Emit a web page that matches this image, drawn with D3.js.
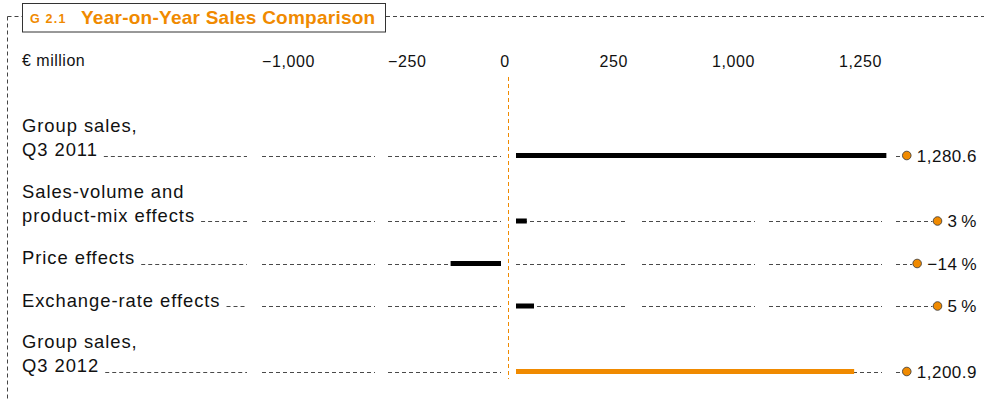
<!DOCTYPE html>
<html>
<head>
<meta charset="utf-8">
<script src="https://cdn.jsdelivr.net/npm/d3@7"></script>
<style>
  html, body { margin: 0; padding: 0; background: #fff; }
  svg { display: block; font-family: "Liberation Sans", Arial, Helvetica, sans-serif; }
</style>
</head>
<body>
<svg id="chart" width="984" height="399"></svg>
<script>
// Rows of the bridge: opening total, three effects, closing total
const categories = [
  ["Group sales,", "Q3 2011"],
  ["Sales-volume and", "product-mix effects"],
  ["Price effects"],
  ["Exchange-rate effects"],
  ["Group sales,", "Q3 2012"]
];
const rowKinds = ["total", "effect", "effect", "effect", "total"];
// € million for totals, percent for effects
const values = [1280.6, 3, -14, 5, 1200.9];
const tickValues = [-1000, -250, 0, 250, 1000, 1250];
const unitLabel = "€ million";
const figureId = "G 2.1";
const titleText = "Year-on-Year Sales Comparison";

const ORANGE = "#F08A00";
const INK = "#111";
const LEADER = "#4a4a4a";

const svg = d3.select("#chart");

// ---- frame and title -------------------------------------------------
const frame = svg.append("g").attr("stroke", "#444").attr("stroke-width", 1)
  .attr("stroke-dasharray", "4,3").attr("fill", "none");
frame.append("line").attr("x1", 7.5).attr("x2", 22).attr("y1", 16.5).attr("y2", 16.5);
frame.append("line").attr("x1", 386).attr("x2", 984).attr("y1", 16.5).attr("y2", 16.5);
frame.append("line").attr("x1", 7.5).attr("x2", 7.5).attr("y1", 16.5).attr("y2", 399);

svg.append("rect").attr("x", 22.5).attr("y", 3.5).attr("width", 363).attr("height", 28.5)
  .attr("fill", "#fff").attr("stroke", "#333").attr("stroke-width", 1);
svg.append("text").attr("x", 30).attr("y", 23)
  .attr("fill", ORANGE).attr("font-weight", "bold").attr("font-size", 12.5)
  .attr("letter-spacing", 1.2).text(figureId);
svg.append("text").attr("x", 81).attr("y", 23.5)
  .attr("fill", ORANGE).attr("font-weight", "bold").attr("font-size", 19)
  .attr("letter-spacing", 0.25)
  .text(titleText);

// ---- scales ------------------------------------------------------------
// broken axis: tick anchors sit at the edges of the dashed columns
const axisX = d3.scaleLinear().domain(tickValues).range([262, 388, 505, 628, 755, 882]);
// totals run from the zero baseline right of the axis, with a break above 1,000
const salesX = d3.scaleLinear().domain([0, 1000, 1250]).range([516, 773, 874]);
// effect bars: length per percentage point
const pctLen = d3.scaleLinear().domain([0, 10]).range([0, 36]);
const POS0 = 516, NEG0 = 501;

// row positions: two-line labels get an extra line of space
const rowY = [];
categories.forEach((c, i) => {
  rowY.push(i === 0 ? 155.5 : rowY[i - 1] + 42.5 + 23 * (c.length - 1));
});

// ---- axis labels ------------------------------------------------------------
svg.append("text").attr("x", 22).attr("y", 66).attr("font-size", 16)
  .attr("letter-spacing", 0.5).attr("fill", INK).text(unitLabel);

const tickFmt = d3.format(",");
svg.append("g").selectAll("text").data(tickValues).join("text")
  .attr("x", d => axisX(d))
  .attr("y", 66.5)
  .attr("font-size", 16)
  .attr("letter-spacing", 0.6)
  .attr("fill", INK)
  .attr("text-anchor", d => d < 0 ? "start" : d === 0 ? "middle" : "end")
  .text(d => tickFmt(d));

// zero line
svg.append("line").attr("x1", 508.5).attr("x2", 508.5).attr("y1", 77).attr("y2", 379)
  .attr("stroke", ORANGE).attr("stroke-width", 1).attr("stroke-dasharray", "4,3");

// ---- rows -------------------------------------------------------------------
const columns = [[262, 375], [388, 501], [516, 628], [642, 755], [769, 882]];
const labelRight = 977;
const totalFmt = d3.format(",.1f");
const pctFmt = v => (v < 0 ? "\u2212" : "") + Math.abs(v) + "\u2009%";

const rows = svg.append("g");
categories.forEach((lines, i) => {
  const y = rowY[i];
  const ly = Math.round(y) + 0.5;
  const g = rows.append("g");

  // category label, last line sits on the leader
  const lab = g.append("text").attr("font-size", 18.4).attr("letter-spacing", 0.95).attr("fill", INK);
  lines.forEach((t, k) => {
    lab.append("tspan").attr("x", 22).attr("y", y + 0.5 - 24 * (lines.length - 1 - k)).text(t);
  });
  const lastSpan = lab.selectAll("tspan").nodes().pop();
  const labEnd = 22 + lastSpan.getComputedTextLength() + 6;

  // value label at the right edge
  const kind = rowKinds[i];
  const v = values[i];
  const vt = g.append("text").attr("x", labelRight).attr("y", y + 6)
    .attr("text-anchor", "end").attr("font-size", 17).attr("letter-spacing", 0.5)
    .attr("fill", INK).text(kind === "total" ? totalFmt(v) : pctFmt(v));
  const vw = vt.node().getComputedTextLength();
  const dotX = labelRight - vw - 10;

  // dashed leaders
  const segs = [[labEnd, 247]].concat(columns, [[896, dotX - 5]]);
  g.selectAll("line.leader").data(segs.filter(s => s[1] > s[0])).join("line")
    .attr("class", "leader")
    .attr("x1", s => s[0]).attr("x2", s => s[1])
    .attr("y1", ly).attr("y2", ly)
    .attr("stroke", LEADER).attr("stroke-width", 1).attr("stroke-dasharray", "4,3");

  // bar
  let x0, x1;
  if (kind === "total") { x0 = salesX(0); x1 = salesX(v); }
  else if (v >= 0) { x0 = POS0; x1 = POS0 + pctLen(v); }
  else { x0 = NEG0 - pctLen(-v); x1 = NEG0; }
  g.append("rect").attr("x", x0).attr("width", x1 - x0)
    .attr("y", y - 2.5).attr("height", 5)
    .attr("fill", i === categories.length - 1 ? ORANGE : "#000");

  // marker
  g.append("circle").attr("cx", dotX).attr("cy", y).attr("r", 4.3)
    .attr("fill", ORANGE).attr("stroke", "#333").attr("stroke-width", 0.8);
});
</script>
</body>
</html>
